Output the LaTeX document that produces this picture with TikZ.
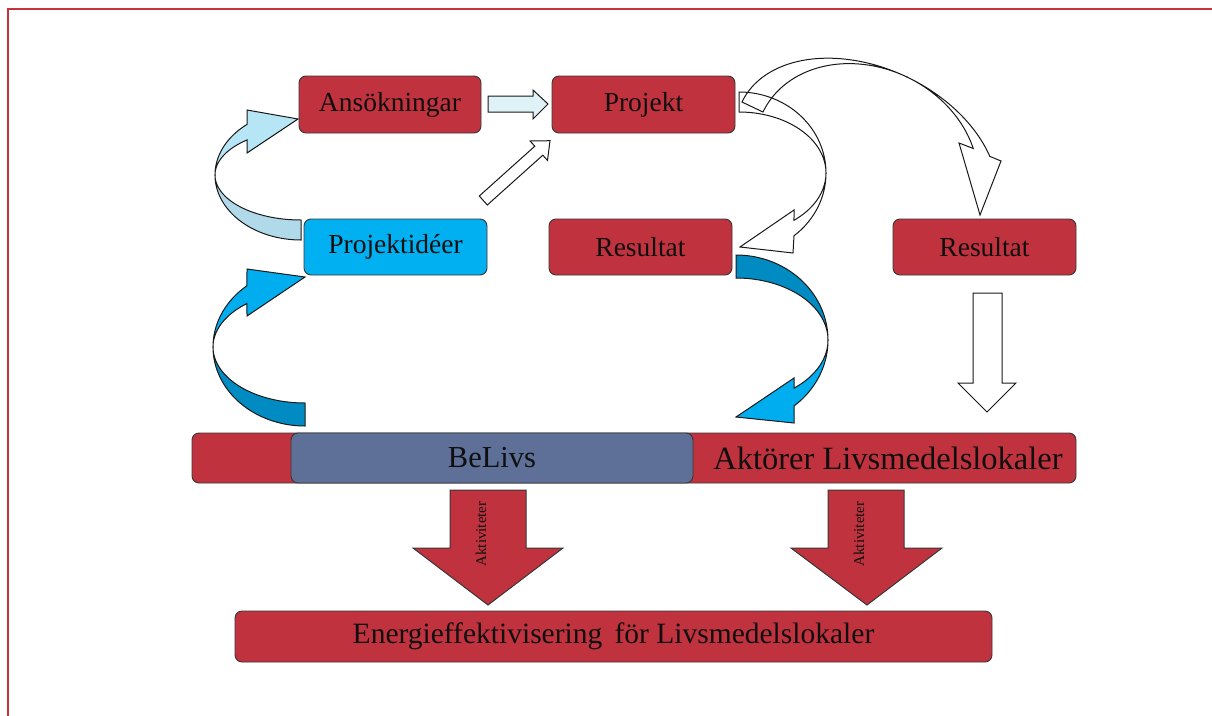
\documentclass[tikz,border=0pt]{standalone}
\usepackage{fontspec}
\setmainfont{Liberation Serif}
\definecolor{boxred}{RGB}{193,50,63}
\definecolor{belivsblue}{RGB}{94,111,152}
\definecolor{ideablue}{RGB}{0,176,240}
\definecolor{framered}{RGB}{200,50,60}
\definecolor{edgegray}{RGB}{55,55,55}
\definecolor{lbfront}{RGB}{182,229,246}
\definecolor{lbback}{RGB}{176,217,233}
\definecolor{dbfront}{RGB}{0,174,239}
\definecolor{dbback}{RGB}{0,140,194}
\definecolor{palecyan}{RGB}{222,242,248}
\definecolor{txt}{RGB}{15,15,15}
\begin{document}
\begin{tikzpicture}[x=1pt,y=-1pt,
  boxbase/.style={draw=edgegray, line width=0.9pt, rounded corners=7pt, inner sep=0pt, text=txt},
  redbox/.style={boxbase, fill=boxred, minimum width=183pt, minimum height=57pt, font=\fontsize{27.5}{31}\selectfont},
  bluebox/.style={boxbase, fill=ideablue, minimum width=183pt, minimum height=57pt, font=\fontsize{27.5}{31}\selectfont},
  shapeline/.style={draw=black!90, line width=1pt, line join=miter},
  redarrow/.style={shapeline, draw=edgegray, fill=boxred},
  actlabel/.style={rotate=90, text=txt, font=\fontsize{15}{17}\selectfont, inner sep=0pt}
]
\useasboundingbox (0,0) rectangle (1212,715);
\fill[white] (0,0) rectangle (1212,715);
% frame
\draw[framered, line width=2.2pt] (8,716) -- (8,9) -- (1213,9);

% boxes
\node[redbox, minimum width=182pt] (ans) at (390,104.5) {Ansökningar};
\node[redbox] (proj) at (643.5,104.5) {Projekt};
\node[bluebox, minimum height=56pt] (idea) at (395.5,247) {Projektidéer};
\node[redbox, minimum height=56pt] (res1) at (640.5,247) {Resultat};
\node[redbox, minimum height=56pt] (res2) at (984.5,247) {Resultat};
\node[boxbase, fill=boxred, minimum width=884pt, minimum height=50pt] (bar) at (634,458) {};
\node[boxbase, fill=belivsblue, minimum width=402pt, minimum height=50pt, font=\fontsize{30.5}{34}\selectfont] (belivs) at (492,458) {BeLivs};
\node[text=txt, inner sep=0pt, font=\fontsize{32.5}{36}\selectfont] (akt) at (888,458) {Aktörer Livsmedelslokaler};
\node[boxbase, fill=boxred, minimum width=757pt, minimum height=51pt, font=\fontsize{29.5}{33}\selectfont] (energy) at (613.5,636.5) {Energieffektivisering\, för Livsmedelslokaler};

% A1 light blue curved arrow (Projektideer -> Ansokningar)
\filldraw[shapeline, fill=lbback] plot[domain=90:180, samples=40, variable=\t] ({301+86*cos(\t)},{175+65*sin(\t)})
  -- plot[domain=180:90, samples=40, variable=\t] ({301+86*cos(\t)},{175+45*sin(\t)}) -- cycle;
\filldraw[shapeline, fill=lbfront] plot[domain=180:231.1, samples=30, variable=\t] ({301+86*cos(\t)},{175+65*sin(\t)})
  -- (247,110) -- (298,119) -- (247,153)
  -- plot[domain=231.1:180, samples=30, variable=\t] ({301+86*cos(\t)},{175+45*sin(\t)}) -- cycle;

% A2 blue curved arrow (BeLivs -> Projektideer)
\filldraw[shapeline, fill=dbback] plot[domain=90:180, samples=40, variable=\t] ({305+92*cos(\t)},{347+79*sin(\t)})
  -- plot[domain=180:90, samples=40, variable=\t] ({305+92*cos(\t)},{347+56*sin(\t)}) -- cycle;
\filldraw[shapeline, fill=dbfront] plot[domain=180:230.9, samples=30, variable=\t] ({305+92*cos(\t)},{347+79*sin(\t)})
  -- (247,269) -- (305,277) -- (247,316)
  -- plot[domain=230.9:180, samples=30, variable=\t] ({305+92*cos(\t)},{347+56*sin(\t)}) -- cycle;

% A3 blue curved arrow (Resultat -> Aktorer)
\filldraw[shapeline, fill=dbback] plot[domain=270:360, samples=40, variable=\t] ({736+92*cos(\t)},{340+85*sin(\t)})
  -- plot[domain=360:270, samples=40, variable=\t] ({736+92*cos(\t)},{340+62*sin(\t)}) -- cycle;
\filldraw[shapeline, fill=dbfront] plot[domain=0:50.9, samples=30, variable=\t] ({736+92*cos(\t)},{340+85*sin(\t)})
  -- (794,423) -- (736,417) -- (794,378)
  -- plot[domain=50.9:0, samples=30, variable=\t] ({736+92*cos(\t)},{340+62*sin(\t)}) -- cycle;

% A4 white curved arrow (Projekt -> Resultat)
\draw[shapeline] plot[domain=270:360, samples=40, variable=\t] ({739+87*cos(\t)},{173+81*sin(\t)})
  -- plot[domain=360:270, samples=40, variable=\t] ({739+87*cos(\t)},{173+61*sin(\t)}) -- cycle;
\draw[shapeline] plot[domain=0:50.8, samples=30, variable=\t] ({739+87*cos(\t)},{173+81*sin(\t)})
  -- (793,253) -- (740,247) -- (794,210)
  -- plot[domain=50.8:0, samples=30, variable=\t] ({739+87*cos(\t)},{173+61*sin(\t)}) -- cycle;

% A5 big white curved arrow (Projekt -> Resultat right)
\draw[shapeline] plot[domain=180:270, samples=50, variable=\t] ({866.7+0.9026*138.2*cos(\t)-40.29*sin(\t)},{161.5+0.4305*138.2*cos(\t)+84.48*sin(\t)})
  -- plot[domain=270:180, samples=50, variable=\t] ({866.7+0.9026*114.9*cos(\t)-40.29*sin(\t)},{161.5+0.4305*114.9*cos(\t)+84.48*sin(\t)}) -- cycle;
\draw[shapeline] plot[domain=270:322, samples=40, variable=\t] ({866.7+0.9026*138.2*cos(\t)-40.29*sin(\t)},{161.5+0.4305*138.2*cos(\t)+84.48*sin(\t)})
  -- (1001,161) -- (980,215) -- (959,143)
  -- plot[domain=322:270, samples=40, variable=\t] ({866.7+0.9026*114.9*cos(\t)-40.29*sin(\t)},{161.5+0.4305*114.9*cos(\t)+84.48*sin(\t)}) -- cycle;

% straight arrows
\filldraw[shapeline, fill=palecyan] (488,96) -- (533,96) -- (533,90) -- (548,104) -- (533,119) -- (533,112) -- (488,112) -- cycle;
\filldraw[shapeline, fill=white] (487.3,205) -- (542.8,155.2) -- (547.5,160.4) -- (550,140.7) -- (530.1,141) -- (534.8,146.2) -- (479.3,196) -- cycle;
\filldraw[shapeline, fill=white] (973,293) -- (1002,293) -- (1002,383) -- (1016,383) -- (987,412) -- (958,383) -- (973,383) -- cycle;

% red down arrows
\filldraw[redarrow] (450,490) -- (526,490) -- (526,548) -- (563,548) -- (488,605) -- (413,548) -- (450,548) -- cycle;
\filldraw[redarrow] (828,490) -- (904,490) -- (904,548) -- (942,548) -- (867,605) -- (791,548) -- (828,548) -- cycle;
\node[actlabel] (act1) at (481,534) {Aktiviteter};
\node[actlabel] (act2) at (859,534) {Aktiviteter};
\end{tikzpicture}
\end{document}
